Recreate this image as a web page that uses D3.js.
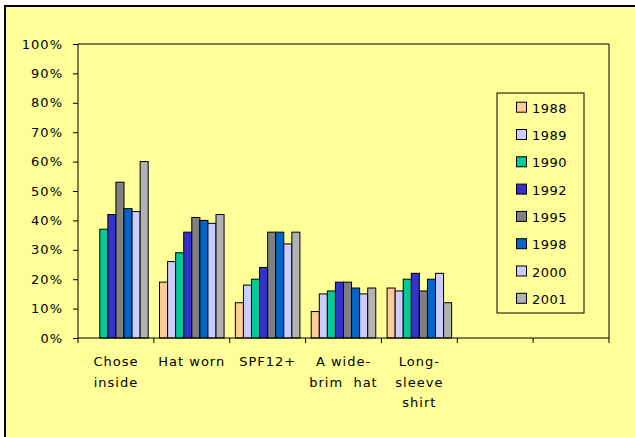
<!DOCTYPE html>
<html>
<head>
<meta charset="utf-8">
<script src="https://cdn.jsdelivr.net/npm/d3@7"></script>
<style>
html,body{margin:0;padding:0;background:#ffffff;}
svg{display:block;}
text{font-family:"DejaVu Sans",Verdana,sans-serif;fill:#000;}
</style>
</head>
<body>
<svg id="chart" width="635" height="437"></svg>
<script>
// ---- data ----
const categories = [["Chose","inside"],["Hat worn"],["SPF12+"],["A wide-","brim  hat"],["Long-","sleeve","shirt"]];
const slotCount = 7;
const years = ["1988","1989","1990","1992","1995","1998","2000","2001"];
const colors = ["#FFCC99","#CCCCFF","#00CC99","#3333CC","#808080","#0066CC","#CCCCFF","#B2B2B2"];
const v1988 = [null,19,12,9,17];
const v1989 = [null,26,18,15,16];
const v1990 = [37,29,20,16,20];
const v1992 = [42,36,24,19,22];
const v1995 = [53,41,36,19,16];
const v1998 = [44,40,36,17,20];
const v2000 = [43,39,32,15,22];
const v2001 = [60,42,36,17,12];
const series = [v1988,v1989,v1990,v1992,v1995,v1998,v2000,v2001];
const yTicks = [0,10,20,30,40,50,60,70,80,90,100];

// ---- layout ----
const svg = d3.select("#chart");
svg.append("rect").attr("x",5).attr("y",6).attr("width",640).attr("height",440)
  .attr("fill","#FFFF99").attr("stroke","#000").attr("stroke-width",2);

const L=78, R=609, T=44, B=338;
const x = d3.scaleBand().domain(d3.range(slotCount)).range([L,R]).paddingInner(0).paddingOuter(0);
const y = d3.scaleLinear().domain([0,100]).range([B,T]);
const catW = x.bandwidth();
const barW = catW/9.4;
const x1 = d3.scaleBand().domain(years).range([0,barW*8]);
const off = (catW - barW*8)/2;

// plot area border (top and right)
svg.append("path").attr("d",`M${L},${T}H${R}V${B}`).attr("fill","none").attr("stroke","#000").attr("stroke-width",1);

// bars
years.forEach((yr,si)=>{
  const g = svg.append("g");
  g.selectAll("rect").data(series[si].map((v,i)=>({v,i})).filter(d=>d.v!=null))
    .enter().append("rect")
    .attr("x",d=>x(d.i)+off+x1(yr))
    .attr("y",d=>y(d.v))
    .attr("width",x1.bandwidth())
    .attr("height",d=>B-y(d.v))
    .attr("fill",colors[si])
    .attr("stroke","#000").attr("stroke-width",1);
});

// y axis
const yAxis = d3.axisLeft(y).tickValues(yTicks).tickFormat(d=>d+"%").tickSize(5).tickPadding(10);
const ya = svg.append("g").attr("transform",`translate(${L},0)`).call(yAxis);
ya.select(".domain").attr("stroke","#000").attr("d",`M0,${T}V${B}`);
ya.selectAll(".tick line").attr("stroke","#000");
ya.selectAll("text").style("font-size","13px").style("letter-spacing","1px").attr("fill","#000")
  .style("font-family","'DejaVu Sans',Verdana,sans-serif");

// x axis line + ticks
svg.append("line").attr("x1",L).attr("x2",R).attr("y1",B).attr("y2",B).attr("stroke","#000");
d3.range(slotCount+1).forEach(i=>{
  const xx = L + i*catW;
  svg.append("line").attr("x1",xx).attr("x2",xx).attr("y1",B).attr("y2",B+5).attr("stroke","#000");
});
// category labels
categories.forEach((lines,i)=>{
  const t = svg.append("text").attr("text-anchor","middle")
    .attr("x",x(i)+catW/2).attr("y",366)
    .style("font-size","13px").style("letter-spacing","1px");
  lines.forEach((ln,j)=>{
    t.append("tspan").attr("x",x(i)+catW/2).attr("dy",j===0?0:20.5).attr("xml:space","preserve").text(ln);
  });
});

// legend
const lg = svg.append("g");
lg.append("rect").attr("x",497).attr("y",93).attr("width",87).attr("height",220)
  .attr("fill","#FFFF99").attr("stroke","#000").attr("stroke-width",1);
years.forEach((yr,i)=>{
  const cy = 107.7 + i*27.3;
  lg.append("rect").attr("x",516.5).attr("y",cy-5.5).attr("width",10).attr("height",10)
    .attr("fill",colors[i]).attr("stroke","#000").attr("stroke-width",1);
  lg.append("text").attr("x",532).attr("y",cy+5).text(yr)
    .style("font-size","13px").style("letter-spacing","0.5px");
});
</script>
</body>
</html>
